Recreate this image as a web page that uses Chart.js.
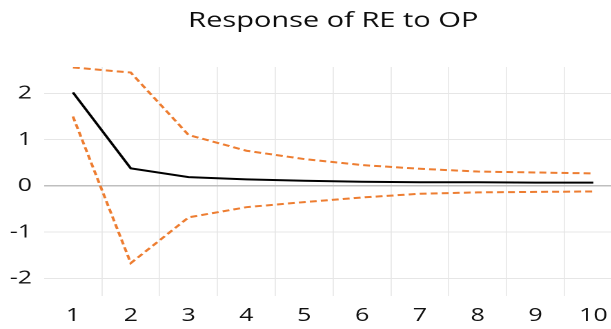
<!DOCTYPE html>
<html>
<head>
<meta charset="utf-8">
<script src="https://cdn.jsdelivr.net/npm/chart.js@4.4.0/dist/chart.umd.min.js"></script>
<style>
  html, body { margin: 0; padding: 0; background: #fff; overflow: hidden; }
  #canvasContainer { width: 611px; height: 329px; overflow: hidden; }
  /* the figure is stretched sideways, as in the exported report */
  #responseChart { transform: scaleX(1.38); transform-origin: 0 0; }
</style>
</head>
<body>
<div id="canvasContainer"><canvas id="responseChart" width="483" height="329"></canvas></div>
<script>
// impulse response of RE to an OP shock, with the error bands
const periods = ['1', '2', '3', '4', '5', '6', '7', '8', '9', '10'];
const response = [2.02, 0.38, 0.19, 0.14, 0.11, 0.09, 0.08, 0.08, 0.07, 0.07];
const upperBand = [2.56, 2.45, 1.10, 0.76, 0.58, 0.45, 0.37, 0.31, 0.29, 0.27];
const lowerBand = [1.50, -1.67, -0.68, -0.46, -0.35, -0.25, -0.17, -0.14, -0.13, -0.12];
const yTicks = [-2, -1, 0, 1, 2];

Chart.defaults.font.family = "'Open Sans'";
Chart.defaults.color = '#111';

function createresponseChart(labels, line, upper, lower) {

const ctx = document.getElementById('responseChart').getContext('2d');
const myChart = new Chart(ctx, {
    type: 'line',
    data: {
        labels: labels,
        datasets: [{
            label: 'Response',
            data: line,
            borderColor: '#000000',
            borderWidth: 2,
            pointRadius: 0,
            tension: 0
        }, {
            label: 'Upper',
            data: upper,
            borderColor: '#ED7D31',
            borderWidth: 2,
            borderDash: [5, 3],
            pointRadius: 0,
            tension: 0
        }, {
            label: 'Lower',
            data: lower,
            borderColor: '#ED7D31',
            borderWidth: 2,
            borderDash: [5, 3],
            pointRadius: 0,
            tension: 0
        }]
    },
    options: {
        responsive: false,
        animation: false,
        devicePixelRatio: 2,
        plugins: {
            legend: { display: false },
            tooltip: { enabled: false },
            title: {
                display: true,
                text: 'Response of RE to OP',
                color: '#0d0d0d',
                font: { size: 21, weight: 'normal' },
                padding: { top: 8.5, bottom: 33.3 }
            }
        },
        scales: {
            x: {
                offset: true,
                border: { display: false },
                grid: {
                    offset: true,
                    drawTicks: false,
                    color: function (c) { return c.index === 0 ? 'rgba(0,0,0,0)' : '#E6E6E6'; },
                    lineWidth: 0.8
                },
                ticks: { font: { size: 18 }, padding: 9, maxRotation: 0 },
                afterFit: function (s) { s.height = 33; }
            },
            y: {
                min: -2.38,
                max: 2.57,
                border: { display: false },
                grid: {
                    drawTicks: false,
                    color: function (c) { return c.tick.value === 0 ? '#BFBFBF' : '#E6E6E6'; },
                    lineWidth: function (c) { return c.tick.value === 0 ? 1.5 : 1; }
                },
                ticks: { font: { size: 18 }, padding: 8.7 },
                afterBuildTicks: function (s) { s.ticks = yTicks.map(function (v) { return { value: v }; }); },
                afterFit: function (s) { s.width = 31.9; }
            },
            y2: {
                position: 'right',
                border: { display: false },
                grid: { display: false },
                ticks: { display: false },
                afterFit: function (s) { s.width = 32.1; }
            }
        }
    }
});

}

createresponseChart(periods, response, upperBand, lowerBand);
</script>
</body>
</html>
